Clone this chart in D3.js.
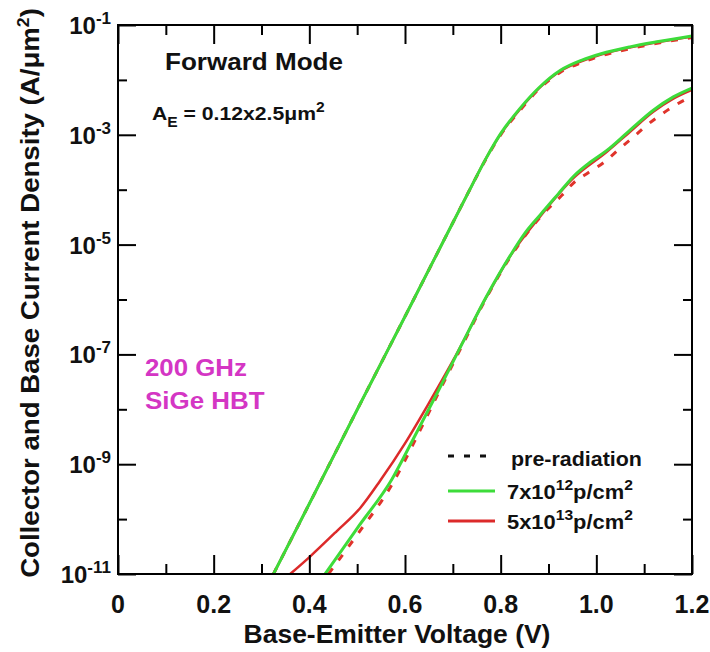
<!DOCTYPE html>
<html>
<head>
<meta charset="utf-8">
<script src="https://cdn.jsdelivr.net/npm/d3@7"></script>
<style>
  body { margin: 0; background: #fff; overflow: hidden; }
  #wrap { position: relative; width: 710px; height: 652px; }
  #wrap svg { position: absolute; left: 0; top: 0; display: block; }
  text { font-family: Arial, "Liberation Sans", Helvetica, sans-serif; font-weight: bold; fill: #111; }
</style>
</head>
<body>
<div id="wrap">
<svg id="chart" width="710" height="652"></svg>
<svg id="frame" width="710" height="652"></svg>
</div>
<script>
// ---- data (A/um^2 vs V) ----
// collector current
const icVolts   = [0.325, 0.40, 0.50, 0.60, 0.70, 0.74, 0.77, 0.80, 0.84, 0.88, 0.925, 0.97, 1.01, 1.07, 1.13, 1.20];
const icPre     = [1e-11, 1.9e-10, 9.8e-9, 4.9e-7, 2.5e-5, 1.2e-4, 3.7e-4, 1.0e-3, 2.75e-3, 6.8e-3, 1.38e-2, 2.08e-2, 2.75e-2, 3.7e-2, 4.7e-2, 5.9e-2];
const icLow     = [1e-11, 1.9e-10, 9.8e-9, 4.9e-7, 2.5e-5, 1.2e-4, 3.8e-4, 1.05e-3, 3.0e-3, 7.2e-3, 1.5e-2, 2.3e-2, 3.0e-2, 4.0e-2, 5.0e-2, 6.3e-2];
const icHigh    = [1e-11, 1.9e-10, 9.8e-9, 4.9e-7, 2.5e-5, 1.2e-4, 3.8e-4, 1.03e-3, 2.9e-3, 7.0e-3, 1.45e-2, 2.2e-2, 2.9e-2, 3.9e-2, 4.9e-2, 6.2e-2];

// base current
const ibPreVolts  = [0.44, 0.50, 0.573, 0.62, 0.67, 0.72, 0.77, 0.82, 0.86, 0.897, 0.928, 0.952, 0.983, 1.015, 1.05, 1.075, 1.102, 1.134, 1.165, 1.197];
const ibPre       = [1e-11, 5.2e-11, 4.3e-10, 2.6e-9, 2.0e-8, 1.48e-7, 1.07e-6, 5.9e-6, 1.82e-5, 4.3e-5, 7.9e-5, 1.32e-4, 2.04e-4, 3.1e-4, 5.75e-4, 8.7e-4, 1.41e-3, 2.29e-3, 3.47e-3, 4.9e-3];
const ibLowVolts  = [0.433, 0.50, 0.573, 0.62, 0.67, 0.72, 0.77, 0.82, 0.85, 0.883, 0.92, 0.952, 0.99, 1.022, 1.071, 1.119, 1.161, 1.20];
const ibLow       = [1e-11, 6.8e-11, 5.4e-10, 3.2e-9, 2.2e-8, 1.6e-7, 1.12e-6, 6.3e-6, 1.58e-5, 3.5e-5, 8.3e-5, 1.74e-4, 3.3e-4, 5.2e-4, 1.23e-3, 2.8e-3, 4.9e-3, 7.1e-3];
const ibHighVolts = [0.36, 0.402, 0.457, 0.506, 0.548, 0.60, 0.65, 0.70, 0.77, 0.82, 0.883, 0.952, 1.022, 1.071, 1.119, 1.161, 1.20];
const ibHigh      = [1e-11, 2.1e-11, 6.0e-11, 1.58e-10, 5.0e-10, 2.4e-9, 1.3e-8, 7.6e-8, 1.1e-6, 6.2e-6, 3.3e-5, 1.62e-4, 4.9e-4, 1.15e-3, 2.63e-3, 4.57e-3, 6.6e-3];

const xMajor = [0, 0.2, 0.4, 0.6, 0.8, 1.0, 1.2];
const xMinor = [0.1, 0.3, 0.5, 0.7, 0.9, 1.1];
const xTickLabels = ["0", "0.2", "0.4", "0.6", "0.8", "1.0", "1.2"];
const yMajorExp = [-1, -3, -5, -7, -9, -11];
const yMinorExp = [-2, -4, -6, -8, -10];

const legendLabels = ["pre-radiation", "7x10", "5x10"];
const legendSups = ["", "12", "13"];

// ---- layout ----
const margin = { top: 25, right: 18, bottom: 78, left: 118 };
const plotW = 710 - margin.left - margin.right;
const plotH = 652 - margin.top - margin.bottom;

const GREEN = "#3ddc3a";
const RED = "#dc2a2a";
const DASHRED = "#e0332b";

const svg = d3.select("#chart");

const x = d3.scaleLinear().domain([0, 1.2]).range([margin.left, margin.left + plotW]);
const y = d3.scaleLog().domain([1e-11, 1e-1]).range([margin.top + plotH, margin.top]);
const xLeft = x(0), xRight = x(1.2), yTop = y(1e-1), yBot = y(1e-11);

// place a text in its own group, then stretch it to a measured width
function label(parent, px, py, rot, anchor, size) {
    return parent.append("g")
        .attr("transform", `translate(${px},${py}) rotate(${rot})`)
        .append("text")
        .attr("text-anchor", anchor)
        .style("font-size", size + "px");
}
function fit(t, target) {
    const w = t.node().getBBox().width;
    if (w > 0) t.attr("transform", `scale(${target / w},1)`);
}

// ---- curves ----
const curveLine = d3.line()
    .x(d => x(d[0]))
    .y(d => y(d[1]))
    .curve(d3.curveMonotoneX);

function pairs(vs, is) { return vs.map((v, i) => [v, is[i]]); }

const curves = [
    { d: pairs(icVolts, icHigh), c: RED, w: 2.5, dash: null },
    { d: pairs(ibHighVolts, ibHigh), c: RED, w: 2.5, dash: null },
    { d: pairs(icVolts, icPre), c: DASHRED, w: 3, dash: "7,10" },
    { d: pairs(ibPreVolts, ibPre), c: DASHRED, w: 3, dash: "7,10" },
    { d: pairs(icVolts, icLow), c: GREEN, w: 3, dash: null },
    { d: pairs(ibLowVolts, ibLow), c: GREEN, w: 3, dash: null }
];

svg.append("g").selectAll("path")
    .data(curves)
    .enter()
    .append("path")
    .attr("d", d => curveLine(d.d))
    .attr("fill", "none")
    .attr("stroke", d => d.c)
    .attr("stroke-width", d => d.w)
    .attr("stroke-dasharray", d => d.dash);

// ---- tick labels ----
xMajor.forEach((v, i) => {
    svg.append("text")
        .attr("x", x(v)).attr("y", yBot + 39)
        .attr("text-anchor", "middle")
        .style("font-size", "25px")
        .text(xTickLabels[i]);
});

yMajorExp.forEach(e => {
    const t = svg.append("text")
        .attr("x", xLeft - 7).attr("y", y(Math.pow(10, e)) + 9)
        .attr("text-anchor", "end")
        .style("font-size", "24px");
    t.append("tspan").text("10");
    t.append("tspan").attr("dy", -10).style("font-size", "17px").text("-" + (-e));
});

// ---- axis titles ----
const xt = label(svg, margin.left + plotW / 2 - 8, 643, 0, "middle", 25);
xt.text("Base-Emitter Voltage (V)");
fit(xt, 307);

const yt = label(svg, 39, 293, -90, "middle", 25);
yt.append("tspan").text("Collector and Base Current Density (A/\u03bcm");
yt.append("tspan").attr("dy", -10).style("font-size", "16px").text("2");
yt.append("tspan").attr("dy", 10).text(")");
fit(yt, 570);

// ---- annotations ----
const fm = label(svg, 165, 70, 0, "start", 23);
fm.text("Forward Mode");
fit(fm, 178);

const ae = label(svg, 152, 120, 0, "start", 19);
ae.append("tspan").text("A");
ae.append("tspan").attr("dy", 7).style("font-size", "14px").text("E");
ae.append("tspan").attr("dy", -7).text(" = 0.12x2.5\u03bcm");
ae.append("tspan").attr("dy", -8).style("font-size", "14px").text("2");
fit(ae, 173);

const hb1 = label(svg, 145, 376, 0, "start", 24).style("fill", "#d436c4");
hb1.text("200 GHz");
fit(hb1, 102);
const hb2 = label(svg, 145, 409, 0, "start", 24).style("fill", "#d436c4");
hb2.text("SiGe HBT");
fit(hb2, 120);

// ---- legend ----
const legendY = [456, 491, 521];
const legendStroke = [
    { c: "#111", dash: "6,10" },
    { c: GREEN, dash: null },
    { c: RED, dash: null }
];
const leg = svg.append("g");
legendY.forEach((ly, i) => {
    leg.append("line")
        .attr("x1", 448).attr("x2", 495)
        .attr("y1", ly).attr("y2", ly)
        .attr("stroke", legendStroke[i].c)
        .attr("stroke-width", 3)
        .attr("stroke-dasharray", legendStroke[i].dash);
    const t = label(leg, i === 0 ? 511 : 507, ly + (i === 0 ? 10 : 8), 0, "start", 21);
    t.append("tspan").text(legendLabels[i]);
    if (legendSups[i]) {
        t.append("tspan").attr("dy", -9).style("font-size", "15px").text(legendSups[i]);
        t.append("tspan").attr("dy", 9).text("p/cm");
        t.append("tspan").attr("dy", -9).style("font-size", "15px").text("2");
        fit(t, 126);
    } else {
        fit(t, 131);
    }
});

// ---- frame and inward ticks, in a second svg layered on top ----
const fr = d3.select("#frame");
function tickAxis(axis, vals, len, tx, ty) {
    const a = fr.append("g")
        .attr("transform", `translate(${tx},${ty})`)
        .call(axis.tickValues(vals).tickSize(-len).tickSizeOuter(0).tickFormat(() => ""));
    a.select(".domain").remove();
    a.selectAll("line").attr("stroke", "black").attr("stroke-width", 2);
}
tickAxis(d3.axisBottom(x), xMajor, 19, 0, yBot);
tickAxis(d3.axisBottom(x), xMinor, 10, 0, yBot);
tickAxis(d3.axisTop(x), xMajor, 19, 0, yTop);
tickAxis(d3.axisTop(x), xMinor, 10, 0, yTop);
tickAxis(d3.axisLeft(y), yMajorExp.map(e => Math.pow(10, e)), 18, xLeft, 0);
tickAxis(d3.axisLeft(y), yMinorExp.map(e => Math.pow(10, e)), 9, xLeft, 0);
tickAxis(d3.axisRight(y), yMajorExp.map(e => Math.pow(10, e)), 18, xRight, 0);
tickAxis(d3.axisRight(y), yMinorExp.map(e => Math.pow(10, e)), 9, xRight, 0);

fr.append("rect")
    .attr("x", xLeft).attr("y", yTop)
    .attr("width", xRight - xLeft).attr("height", yBot - yTop)
    .attr("fill", "none")
    .attr("stroke", "black")
    .attr("stroke-width", 2);
</script>
</body>
</html>
